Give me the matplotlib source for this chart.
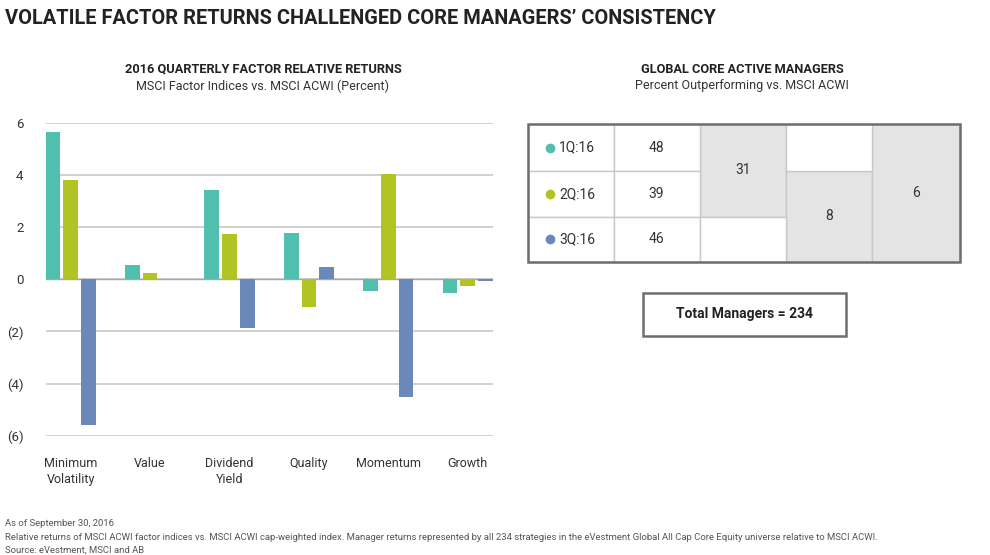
import matplotlib
matplotlib.use('Agg')
import matplotlib.pyplot as plt
from matplotlib.patches import Rectangle
import numpy as np

plt.rcParams['font.family'] = ['Roboto', 'DejaVu Sans']

# left chart data
factors = ['Minimum\nVolatility', 'Value', 'Dividend\nYield', 'Quality', 'Momentum', 'Growth']
q1_returns = [5.65, 0.55, 3.44, 1.77, -0.46, -0.54]
q2_returns = [3.81, 0.26, 1.73, -1.08, 4.05, -0.26]
q3_returns = [-5.60, 0.03, -1.85, 0.47, -4.51, -0.05]
quarters = ['1Q:16', '2Q:16', '3Q:16']
y_ticks = [-6, -4, -2, 0, 2, 4, 6]
y_tick_labels = ['(6)', '(4)', '(2)', '0', '2', '4', '6']

# right table data
pct_outperforming = [48, 39, 46]
overlap_two = [31, 8]   # 1Q&2Q, 2Q&3Q
overlap_all = 6
total_managers = 234

colors = ['#50BFAE', '#B2C424', '#6A89BA']

W, H = 990, 555
fig = plt.figure(figsize=(W / 100, H / 100), dpi=100)


def fx(px):
    return px / W


def fy(py):
    return 1 - py / H


# title
fig.text(fx(5), fy(18), 'VOLATILE FACTOR RETURNS CHALLENGED CORE MANAGERS\u2019 CONSISTENCY',
         fontsize=14.4, fontweight='bold', color='#222222', va='center', ha='left')

# left subtitles
fig.text(fx(263), fy(69), '2016 QUARTERLY FACTOR RELATIVE RETURNS', fontsize=9.2,
         fontweight='bold', color='#222222', ha='center', va='center')
fig.text(fx(263), fy(86), 'MSCI Factor Indices vs. MSCI ACWI (Percent)', fontsize=9,
         color='#333333', ha='center', va='center')

# bar chart
ax = fig.add_axes([fx(45.7), fy(435.7), fx(447), (435.7 - 123) / H])
x = np.arange(len(factors))
pitch = 0.223
bw = 0.185
for i, vals in enumerate([q1_returns, q2_returns, q3_returns]):
    ax.bar(x + (i - 1) * pitch, vals, width=bw, color=colors[i], zorder=3)
ax.set_xlim(-pitch - bw / 2, len(factors) - 1 + pitch + bw / 2)
ax.set_ylim(-6, 6)
ax.set_yticks(y_ticks)
ax.set_yticklabels(y_tick_labels, fontsize=9.5, color='#333333')
ax.set_xticks(x)
ax.set_xticklabels(factors, fontsize=9, color='#333333', va='top', linespacing=1.3)
ax.tick_params(axis='both', length=0)
ax.tick_params(axis='y', pad=16)
ax.tick_params(axis='x', pad=15)
ax.grid(axis='y', color='#C8C8C8', linewidth=1.2, zorder=0)
ax.axhline(0, color='#A8A8A8', linewidth=1.0, zorder=2)
for s in ax.spines.values():
    s.set_visible(False)

# right subtitles
fig.text(fx(742), fy(69), 'GLOBAL CORE ACTIVE MANAGERS', fontsize=9.2,
         fontweight='bold', color='#222222', ha='center', va='center')
fig.text(fx(742), fy(86), 'Percent Outperforming vs. MSCI ACWI', fontsize=9,
         color='#333333', ha='center', va='center')

# table drawn in a pixel-space overlay axes
tx = fig.add_axes([0, 0, 1, 1])
tx.set_xlim(0, W)
tx.set_ylim(H, 0)
tx.axis('off')

cols = [527.5, 613.5, 699.5, 785.7, 872, 960]
rows = [124, 171.3, 216.7, 261.7]
grid_c = '#C8C8C8'
fill_c = '#E4E4E4'

# grey overlap cells
tx.add_patch(Rectangle((cols[2], rows[0]), cols[3] - cols[2], rows[2] - rows[0],
                       facecolor=fill_c, edgecolor=grid_c, lw=1))
tx.add_patch(Rectangle((cols[3], rows[1]), cols[4] - cols[3], rows[3] - rows[1],
                       facecolor=fill_c, edgecolor=grid_c, lw=1))
tx.add_patch(Rectangle((cols[4], rows[0]), cols[5] - cols[4], rows[3] - rows[0],
                       facecolor=fill_c, edgecolor=grid_c, lw=1))
# legend and value cells
for r in range(3):
    for c in range(2):
        tx.add_patch(Rectangle((cols[c], rows[r]), cols[c + 1] - cols[c], rows[r + 1] - rows[r],
                               facecolor='white', edgecolor=grid_c, lw=1))
    yc = (rows[r] + rows[r + 1]) / 2
    tx.plot(549.5, yc, 'o', color=colors[r], markersize=6)
    tx.text(559, yc, quarters[r], fontsize=10, color='#333333', va='center', ha='left')
    tx.text((cols[1] + cols[2]) / 2, yc, str(pct_outperforming[r]), fontsize=10,
            color='#333333', va='center', ha='center')
tx.add_patch(Rectangle((cols[2], rows[2]), cols[3] - cols[2], rows[3] - rows[2],
                       facecolor='white', edgecolor=grid_c, lw=1))
tx.add_patch(Rectangle((cols[3], rows[0]), cols[4] - cols[3], rows[1] - rows[0],
                       facecolor='white', edgecolor=grid_c, lw=1))

tx.text((cols[2] + cols[3]) / 2, (rows[0] + rows[2]) / 2, str(overlap_two[0]), fontsize=10,
        color='#333333', va='center', ha='center')
tx.text((cols[3] + cols[4]) / 2, (rows[1] + rows[3]) / 2, str(overlap_two[1]), fontsize=10,
        color='#333333', va='center', ha='center')
tx.text((cols[4] + cols[5]) / 2, (rows[0] + rows[3]) / 2, str(overlap_all), fontsize=10,
        color='#333333', va='center', ha='center')

# outer border
tx.add_patch(Rectangle((cols[0], rows[0]), cols[-1] - cols[0], rows[-1] - rows[0],
                       facecolor='none', edgecolor='#6E6E6E', lw=1.8))

# total managers box
tx.add_patch(Rectangle((642.5, 293), 203, 42.5, facecolor='white', edgecolor='#6E6E6E', lw=1.8))
tx.text(744, 314, 'Total Managers = %d' % total_managers, fontsize=10, fontweight='bold',
        color='#222222', ha='center', va='center')

# footnotes
notes = ['As of September 30, 2016',
         'Relative returns of MSCI ACWI factor indices vs. MSCI ACWI cap-weighted index. Manager returns '
         'represented by all 234 strategies in the eVestment Global All Cap Core Equity universe relative to MSCI ACWI.',
         'Source: eVestment, MSCI and AB']
for i, n in enumerate(notes):
    fig.text(fx(5), fy(524 + 13 * i), n, fontsize=6.8, color='#555555', ha='left', va='center')

fig.savefig('out.png', dpi=100)
